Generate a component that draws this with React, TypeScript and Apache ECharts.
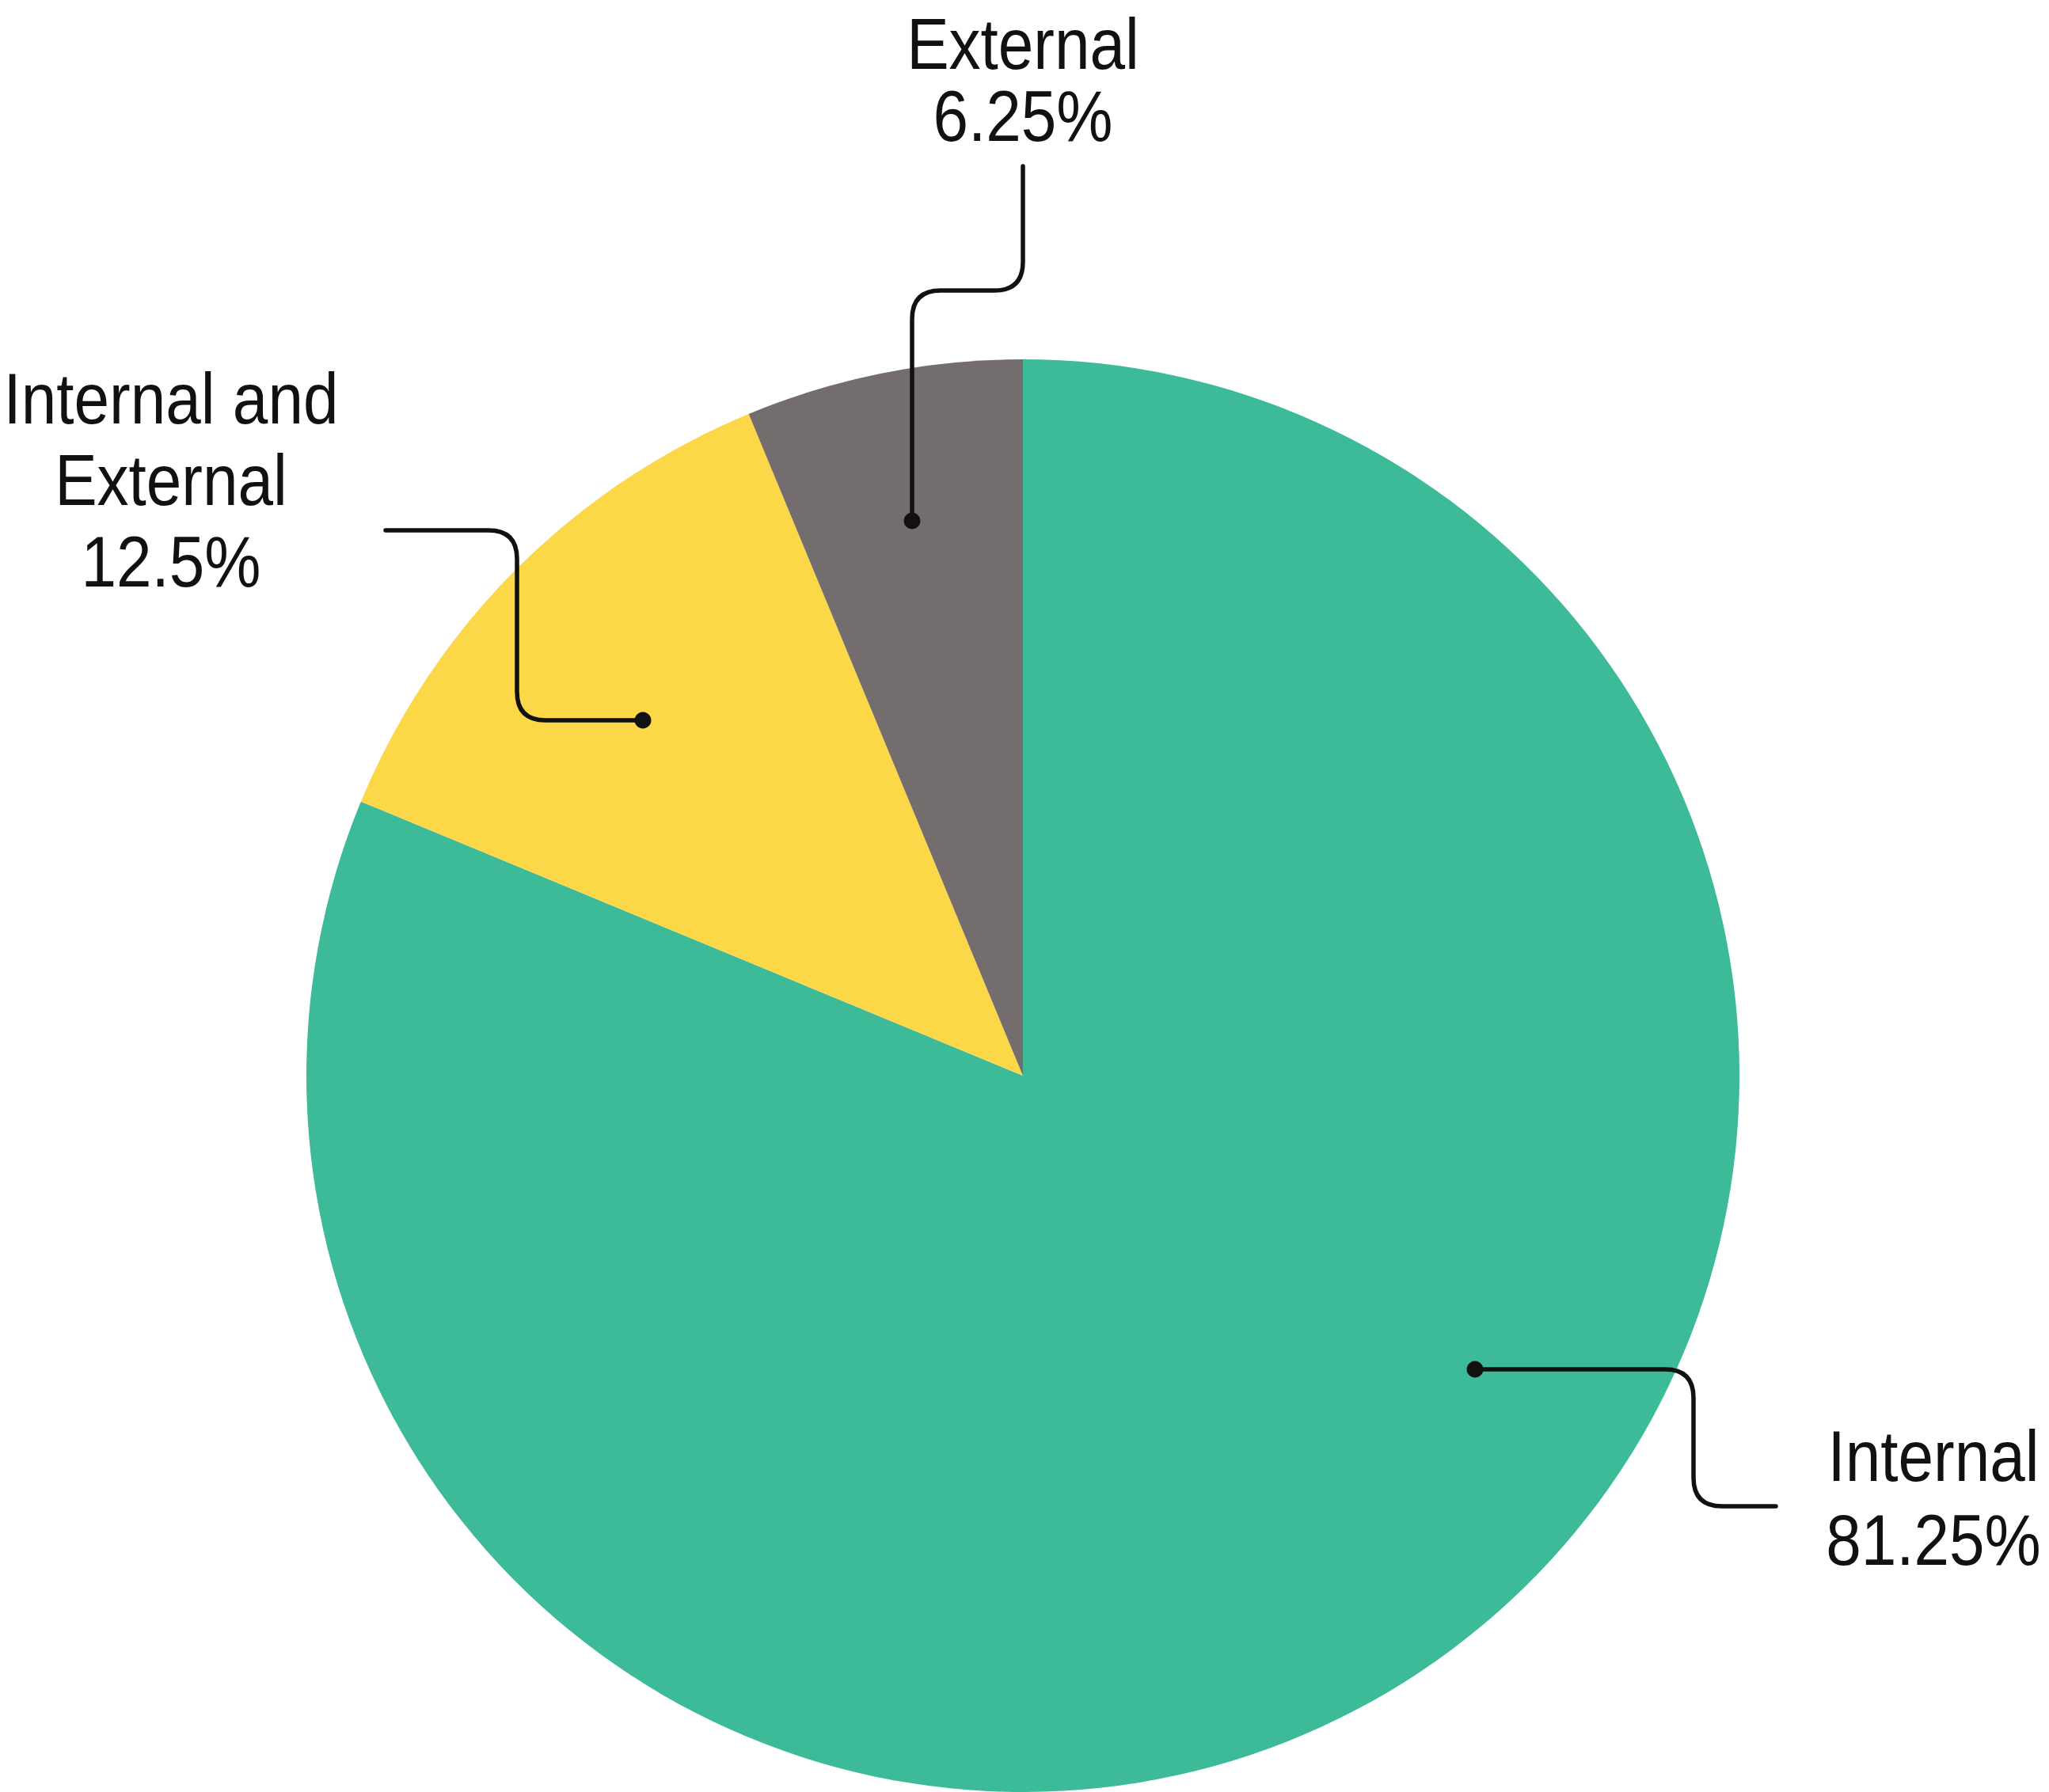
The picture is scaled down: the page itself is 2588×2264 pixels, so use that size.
import React, { useEffect, useRef } from "react";
import * as echarts from "echarts";

// ---- Data ----
const NAMES = ["Internal", "Internal and External", "External"];
const VALUES = [81.25, 12.5, 6.25];
const NAME_LINES = [["Internal"], ["Internal and", "External"], ["External"]];
const COLORS = ["#3DBB98", "#FCD748", "#736E6D"];

// ---- Layout (annotation positions, px) ----
const W = 2588;
const H = 2264;
const CENTER = [1292, 1359];
const RADIUS = 905;
const LABEL_POS = [
  { x: 2442, y: 1839, gap: 106 },
  { x: 216, y: 503, gap: 103 },
  { x: 1292, y: 55, gap: 91 },
];
const LEADERS = [
  [[1863, 1730], [2139, 1730], [2139, 1903], [2243, 1903]],
  [[812, 910], [653, 910], [653, 670], [487, 670]],
  [[1152, 658], [1152, 367], [1292, 367], [1292, 210]],
];
const CORNER = 36;
const FONT = '91px "Liberation Sans", Arial, sans-serif';
const SCALE_X = 0.88;
const INK = "#111111";

function roundedPath(pts: number[][], r: number): string {
  let d = `M${pts[0][0]} ${pts[0][1]}`;
  for (let i = 1; i < pts.length - 1; i++) {
    const [px, py] = pts[i - 1];
    const [x, y] = pts[i];
    const [nx, ny] = pts[i + 1];
    const l1 = Math.hypot(x - px, y - py);
    const l2 = Math.hypot(nx - x, ny - y);
    const bx = x - ((x - px) / l1) * r;
    const by = y - ((y - py) / l1) * r;
    const ax = x + ((nx - x) / l2) * r;
    const ay = y + ((ny - y) / l2) * r;
    d += ` L${bx} ${by} Q${x} ${y} ${ax} ${ay}`;
  }
  const last = pts[pts.length - 1];
  d += ` L${last[0]} ${last[1]}`;
  return d;
}

export default function App() {
  const ref = useRef<HTMLDivElement>(null);

  useEffect(() => {
    document.body.style.margin = "0";
    document.body.style.overflow = "hidden";
    if (!ref.current) return;
    const chart = echarts.init(ref.current, undefined, { renderer: "svg" });

    const graphics: any[] = [];
    LEADERS.forEach((pts, i) => {
      const shapeName = `leaderLine${i}`;
      echarts.graphic.registerShape(
        shapeName,
        echarts.graphic.extendPath(roundedPath(pts, CORNER), {}) as any
      );
      graphics.push({
        type: shapeName,
        x: 0,
        y: 0,
        z: 100,
        silent: true,
        style: { stroke: INK, lineWidth: 5.5, fill: "none", lineCap: "round" },
      });
      graphics.push({
        type: "circle",
        z: 101,
        silent: true,
        shape: { cx: pts[0][0], cy: pts[0][1], r: 10.5 },
        style: { fill: INK },
      });
    });

    NAMES.forEach((_, i) => {
      const lines = [...NAME_LINES[i], `${VALUES[i]}%`];
      const pos = LABEL_POS[i];
      lines.forEach((t, j) => {
        graphics.push({
          type: "text",
          x: pos.x,
          y: pos.y + j * pos.gap,
          scaleX: SCALE_X,
          z: 100,
          silent: true,
          style: {
            text: t,
            x: 0,
            y: 0,
            font: FONT,
            fill: INK,
            textAlign: "center",
            textVerticalAlign: "middle",
          },
        });
      });
    });

    chart.setOption({
      animation: false,
      backgroundColor: "#ffffff",
      series: [
        {
          type: "pie",
          center: CENTER,
          radius: RADIUS,
          startAngle: 90,
          clockwise: true,
          avoidLabelOverlap: false,
          label: { show: false },
          labelLine: { show: false },
          emphasis: { disabled: true },
          itemStyle: { borderWidth: 0 },
          data: NAMES.map((n, i) => ({
            name: n,
            value: VALUES[i],
            itemStyle: { color: COLORS[i] },
          })),
        },
      ],
      graphic: { elements: graphics },
    });

    return () => chart.dispose();
  }, []);

  return (
    <div
      ref={ref}
      style={{ position: "fixed", left: 0, top: 0, width: W, height: H }}
    />
  );
}
